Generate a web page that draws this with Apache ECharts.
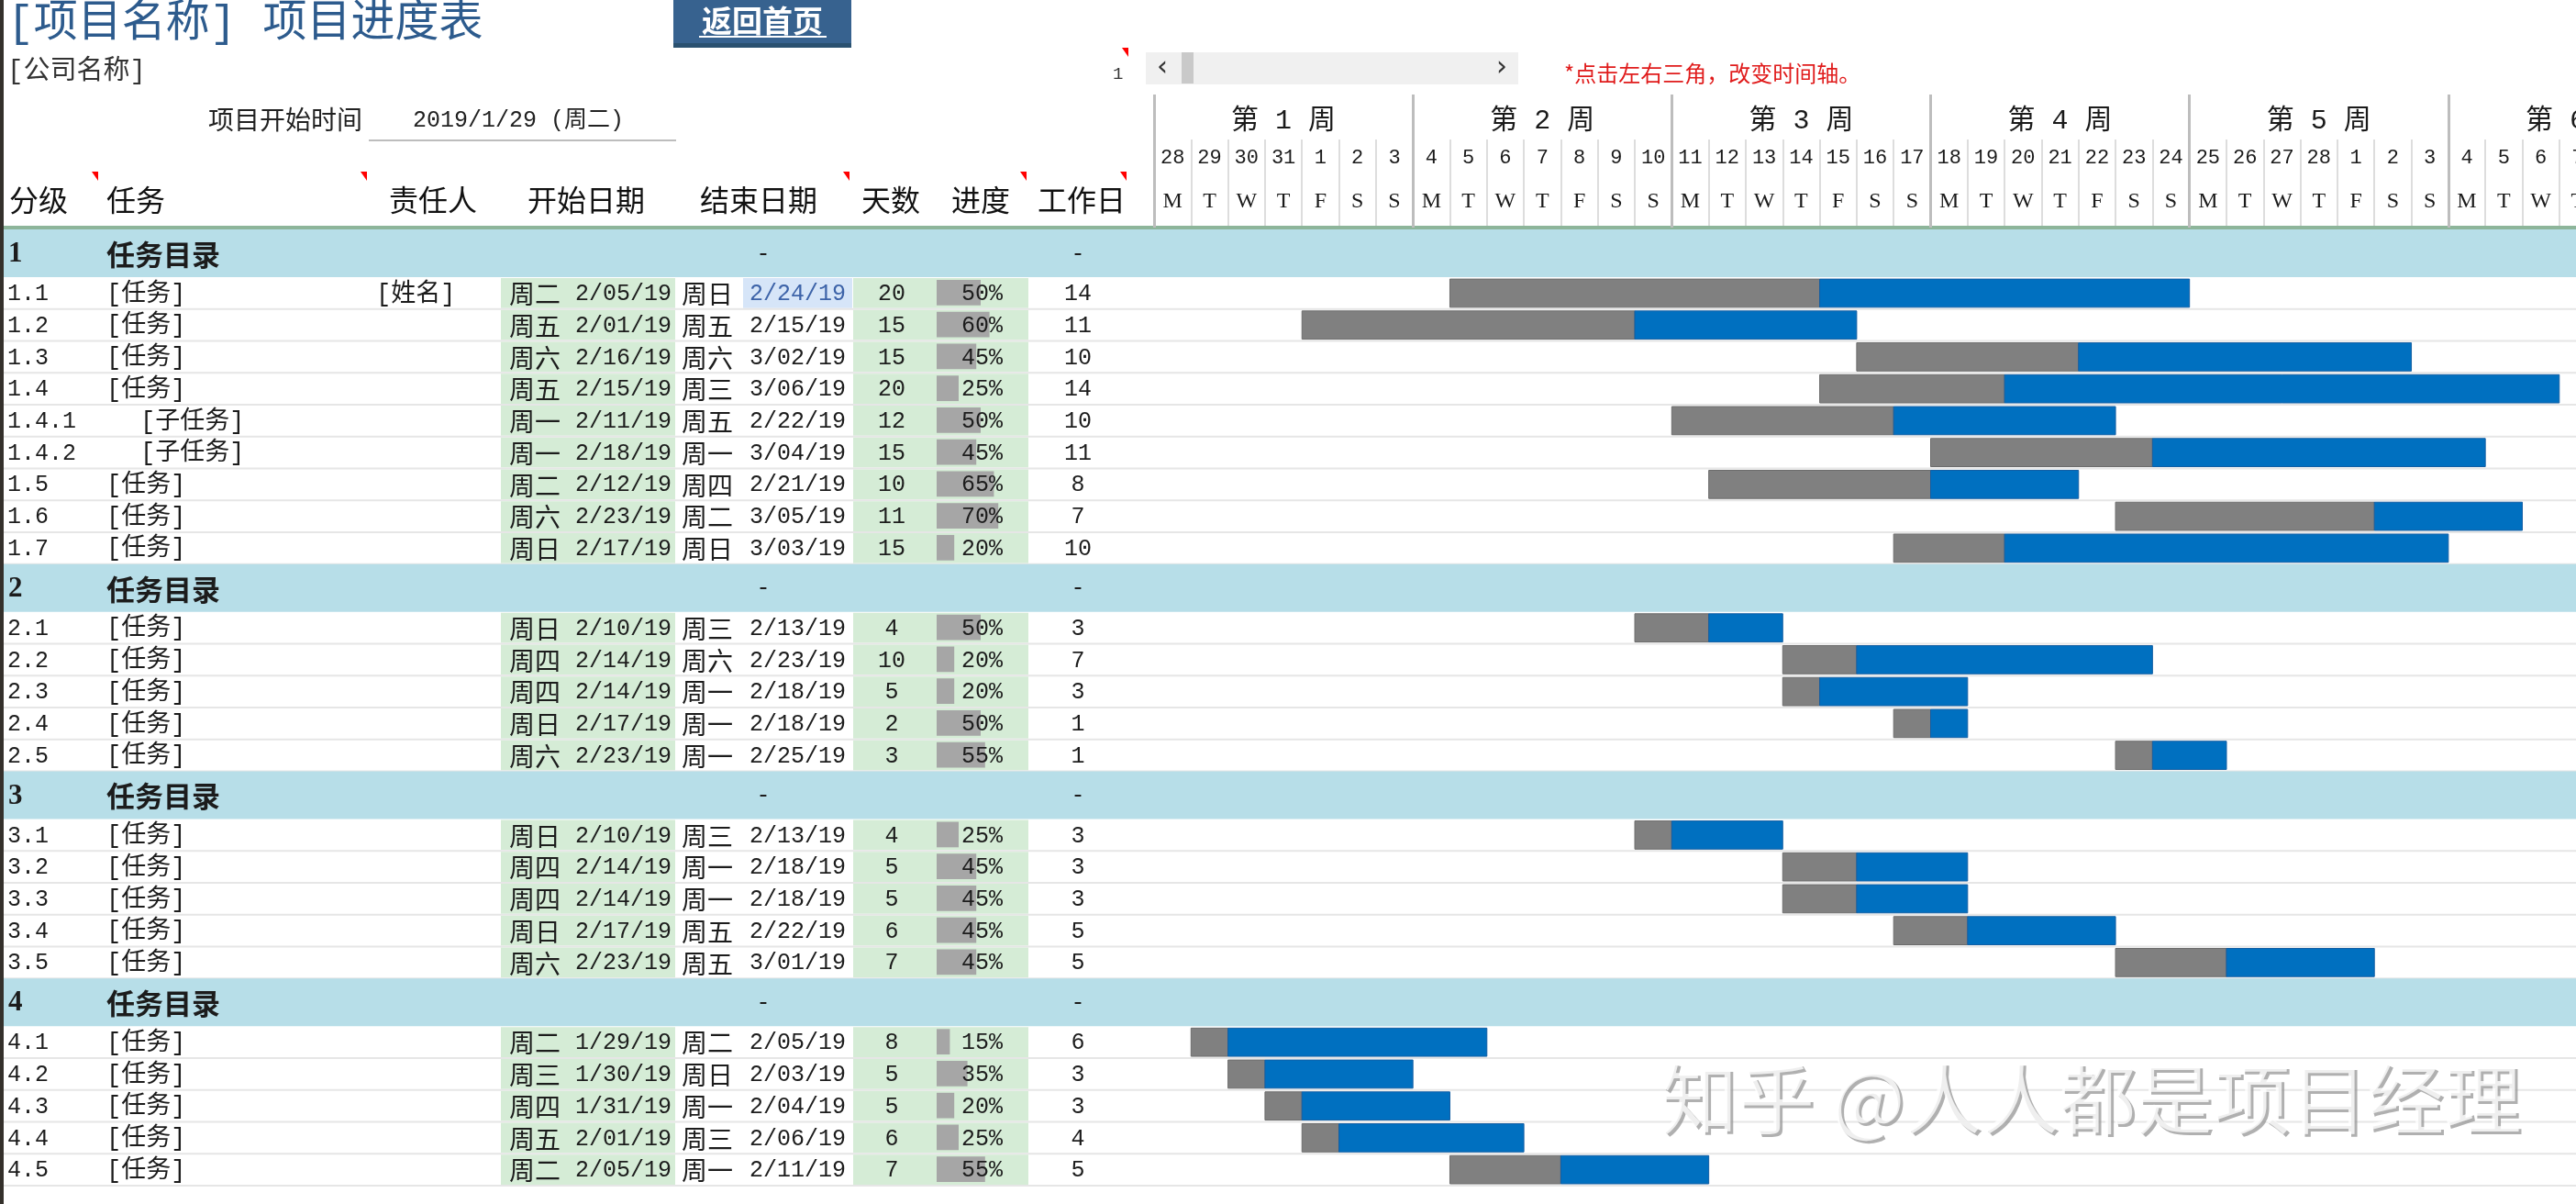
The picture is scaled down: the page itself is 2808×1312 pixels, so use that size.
<!DOCTYPE html>
<html><head><meta charset="utf-8">
<script src="https://cdn.jsdelivr.net/npm/echarts@6/dist/echarts.min.js"></script>
<style>html,body{margin:0;padding:0;background:#fff}#c{width:2808px;height:1312px}</style>
</head><body><div id="c"></div>
<script>
// ---------------- DATA ----------------
const timelineStart = '1/28/19';
const weekLabels = ['第 1 周','第 2 周','第 3 周','第 4 周','第 5 周','第 6 周'];
const dayNumbers = ['28','29','30','31','1','2','3','4','5','6','7','8','9','10','11','12','13','14','15','16','17','18','19','20','21','22','23','24','25','26','27','28','1','2','3','4','5','6','7'];
const weekdayLetters = ['M','T','W','T','F','S','S','M','T','W','T','F','S','S','M','T','W','T','F','S','S','M','T','W','T','F','S','S','M','T','W','T','F','S','S','M','T','W','T'];
const levels = ['1','1.1','1.2','1.3','1.4','1.4.1','1.4.2','1.5','1.6','1.7','2','2.1','2.2','2.3','2.4','2.5','3','3.1','3.2','3.3','3.4','3.5','4','4.1','4.2','4.3','4.4','4.5'];
const taskNames = ['任务目录','[任务]','[任务]','[任务]','[任务]','[子任务]','[子任务]','[任务]','[任务]','[任务]','任务目录','[任务]','[任务]','[任务]','[任务]','[任务]','任务目录','[任务]','[任务]','[任务]','[任务]','[任务]','任务目录','[任务]','[任务]','[任务]','[任务]','[任务]'];
const owners = ['','[姓名]','','','','','','','','','','','','','','','','','','','','','','','','','',''];
const startDates = [null,'2/05/19','2/01/19','2/16/19','2/15/19','2/11/19','2/18/19','2/12/19','2/23/19','2/17/19',null,'2/10/19','2/14/19','2/14/19','2/17/19','2/23/19',null,'2/10/19','2/14/19','2/14/19','2/17/19','2/23/19',null,'1/29/19','1/30/19','1/31/19','2/01/19','2/05/19'];
const endDates = [null,'2/24/19','2/15/19','3/02/19','3/06/19','2/22/19','3/04/19','2/21/19','3/05/19','3/03/19',null,'2/13/19','2/23/19','2/18/19','2/18/19','2/25/19',null,'2/13/19','2/18/19','2/18/19','2/22/19','3/01/19',null,'2/05/19','2/03/19','2/04/19','2/06/19','2/11/19'];
const durations = [null,20,15,15,20,12,15,10,11,15,null,4,10,5,2,3,null,4,5,5,6,7,null,8,5,5,6,7];
const progressPct = [null,50,60,45,25,50,45,65,70,20,null,50,20,20,50,55,null,25,45,45,45,45,null,15,35,20,25,55];
const workdays = [null,14,11,10,14,10,11,8,7,10,null,3,7,3,1,1,null,3,3,3,5,5,null,6,3,3,4,5];
const doneDays = [null,10,9,6,5,6,6,6,7,3,null,2,2,1,1,1,null,1,2,2,2,3,null,1,1,1,1,3];
const projectStart = '2019/1/29 (周二)';

// ---------------- HELPERS ----------------
const MONO = "'Liberation Mono','Noto Sans CJK SC',monospace";
const CJK = "'Noto Sans CJK SC','Liberation Mono',sans-serif";
const SECTION = '#b7dee8', GREEN = '#d5ecd6', SEP = '#e6e6e6';
function parseD(s){ const p = s.split('/'); return Date.UTC(2000 + +p[2], +p[0]-1, +p[1]); }
const t0 = parseD(timelineStart);
function dayIdx(s){ return Math.round((parseD(s) - t0) / 86400000); }
function wk(s){ return '周' + '日一二三四五六'[new Date(parseD(s)).getUTCDay()]; }
const isSection = levels.map(l => l.indexOf('.') < 0);
const rowSpan = isSection.map(s => s ? 1.5 : 1);
const rowTop = []; let acc = 0;
rowSpan.forEach((h,i)=>{ rowTop.push(acc); acc += h; });
const TOTAL = acc;

const DAY_W = 40.31, GL = 1258, GW = 2808 - 1258, TOP = 250, BODY_H = 1042;
const XMAX = GW / DAY_W;   // visible span of the timeline, in days

// ---------------- SERIES ----------------
function tableItem(params, api){
  const i = api.value(2);
  const yT = api.coord([0, rowTop[i]])[1];
  const yB = api.coord([0, rowTop[i] + rowSpan[i]])[1];
  const yc = (yT + yB) / 2;
  const X = v => api.coord([v, rowTop[i]])[0];
  const k = [];
  const txt = (text, x, o) => ({type:'text', style:Object.assign({text:String(text), x:x, y:yc+1, fill:'#1c1c1c', fontSize:25, fontFamily:MONO, align:'left', verticalAlign:'middle'}, o||{})});
  if (isSection[i]) {
    k.push({type:'rect', shape:{x:X(0), y:yT, width:X(1258)-X(0), height:yB-yT}, style:{fill:SECTION}});
    k.push(txt(levels[i], X(9), {fontSize:31, fontWeight:'bold', fontFamily:"'Liberation Serif',serif"}));
    k.push(txt(taskNames[i], X(116), {fontSize:31, fontWeight:'bold', fontFamily:CJK}));
    k.push(txt('-', X(832), {align:'center'}));
    k.push(txt('-', X(1175), {align:'center'}));
  } else {
    k.push({type:'rect', shape:{x:X(546), y:yT+1, width:X(736)-X(546), height:yB-yT-2}, style:{fill:GREEN}});
    k.push({type:'rect', shape:{x:X(930), y:yT+1, width:X(1121)-X(930), height:yB-yT-2}, style:{fill:GREEN}});
    if (i === 1) k.push({type:'rect', shape:{x:X(810), y:yT+1, width:X(929)-X(810), height:yB-yT-2}, style:{fill:'#d6e5f8'}});
    k.push({type:'rect', shape:{x:X(1021), y:yT+3, width:(X(1117)-X(1021))*progressPct[i]/100, height:yB-yT-7}, style:{fill:'#a6a6a6'}});
    k.push({type:'line', shape:{x1:X(0), y1:yB, x2:X(1258), y2:yB}, style:{stroke:SEP, lineWidth:2}});
    k.push(txt(levels[i], X(8)));
    k.push(txt(taskNames[i], X(taskNames[i].indexOf('子')>=0 ? 153 : 116), {fontSize:27}));
    if (owners[i]) k.push(txt(owners[i], X(410), {fontSize:27}));
    k.push(txt(wk(startDates[i]), X(555), {fontSize:28, fontFamily:CJK}));
    k.push(txt(startDates[i], X(627)));
    k.push(txt(wk(endDates[i]), X(743), {fontSize:28, fontFamily:CJK}));
    k.push(txt(endDates[i], X(817), i===1 ? {fill:'#3d63a8'} : {}));
    k.push(txt(durations[i], X(972), {align:'center'}));
    k.push(txt(progressPct[i] + '%', X(1093), {align:'right'}));
    k.push(txt(workdays[i], X(1175), {align:'center'}));
  }
  return {type:'group', children:k};
}

function ganttBgItem(params, api){
  const i = api.value(2);
  const yT = api.coord([0, rowTop[i]])[1];
  const yB = api.coord([0, rowTop[i] + rowSpan[i]])[1];
  const x0 = api.coord([0, 0])[0], x1 = api.coord([XMAX, 0])[0];
  if (isSection[i]) return {type:'rect', shape:{x:x0, y:yT, width:x1-x0, height:yB-yT}, style:{fill:SECTION}};
  return {type:'line', shape:{x1:x0, y1:yB, x2:x1, y2:yB}, style:{stroke:SEP, lineWidth:2}};
}

function barItem(params, api){
  const s = api.value(0), e = api.value(1), d = api.value(2), r = api.value(3);
  const yT = api.coord([s, rowTop[r]])[1] + 2;
  const yB = api.coord([s, rowTop[r] + 1])[1] - 2;
  const xs = api.coord([s, 0])[0], xd = api.coord([s + d, 0])[0], xe = api.coord([e, 0])[0];
  return {type:'group', children:[
    {type:'rect', shape:{x:xs, y:yT, width:xd-xs, height:yB-yT}, style:{fill:'#808080', stroke:'#6c6c6c', lineWidth:1}},
    {type:'rect', shape:{x:xd, y:yT, width:xe-xd, height:yB-yT}, style:{fill:'#0070c0', stroke:'#135ea3', lineWidth:1}}
  ]};
}

const rowData = levels.map((l,i)=>[0, rowTop[i], i]);
const barData = [];
levels.forEach((l,i)=>{ if(!isSection[i]) barData.push([dayIdx(startDates[i]), dayIdx(endDates[i]) + 1, doneDays[i], i]); });

// ---------------- GRAPHIC (static sheet decorations) ----------------
const hdrY = 218;
const headerCols = [['分级',10],['任务',116],['责任人',424],['开始日期',575],['结束日期',763],['天数',939],['进度',1037],['工作日',1131]];
const redTri = [[103,187],[396,187],[922,187],[1115,187],[1224,187],[1226,52]];
const graphic = [
  {type:'rect', shape:{x:0,y:0,width:4,height:1312}, style:{fill:'#34302b'}, z:10},
  {type:'text', x:8, y:26, style:{text:'[项目名称] 项目进度表', fontSize:48, fontFamily:MONO, fill:'#2d5b8d', verticalAlign:'middle'}},
  {type:'rect', shape:{x:734,y:0,width:194,height:50}, style:{fill:'#37628f'}},
  {type:'rect', shape:{x:734,y:47,width:194,height:5}, style:{fill:'#2a5170'}},
  {type:'text', x:831, y:22, style:{text:'返回首页', fontSize:33, fontWeight:'bold', fontFamily:CJK, fill:'#ffffff', align:'center', verticalAlign:'middle'}},
  {type:'line', shape:{x1:762,y1:40,x2:901,y2:40}, style:{stroke:'#ffffff', lineWidth:2}},
  {type:'text', x:8, y:78, style:{text:'[公司名称]', fontSize:29, fontFamily:MONO, fill:'#333', verticalAlign:'middle'}},
  {type:'text', x:1213, y:81, style:{text:'1', fontSize:19, fontFamily:MONO, fill:'#333', verticalAlign:'middle'}},
  {type:'rect', shape:{x:1249,y:57,width:406,height:35}, style:{fill:'#f0f0f0'}},
  {type:'rect', shape:{x:1288,y:57,width:13,height:34}, style:{fill:'#c9c9c9'}},
  {type:'text', x:1267, y:74, style:{text:'‹', fontSize:30, fontFamily:"'DejaVu Sans'", fill:'#333', align:'center', verticalAlign:'middle'}},
  {type:'text', x:1637, y:74, style:{text:'›', fontSize:30, fontFamily:"'DejaVu Sans'", fill:'#333', align:'center', verticalAlign:'middle'}},
  {type:'text', x:1705, y:80, style:{text:'*点击左右三角，改变时间轴。', fontSize:24, fontFamily:CJK, fill:'#e01b1b', verticalAlign:'middle'}},
  {type:'text', x:227, y:130, style:{text:'项目开始时间', fontSize:28, fontFamily:CJK, fill:'#222', verticalAlign:'middle'}},
  {type:'text', x:450, y:131, style:{text:projectStart, fontSize:25, fontFamily:MONO, fill:'#222', verticalAlign:'middle'}},
  {type:'line', shape:{x1:402,y1:153,x2:737,y2:153}, style:{stroke:'#bdbdbd', lineWidth:2}},
  {type:'rect', shape:{x:0,y:246,width:2808,height:4}, style:{fill:'#8db59a'}, z:5}
];
headerCols.forEach(c => graphic.push({type:'text', x:c[1], y:hdrY, style:{text:c[0], fontSize:32, fontFamily:CJK, fill:'#111', verticalAlign:'middle'}}));
redTri.forEach(p => graphic.push({type:'polygon', shape:{points:[[p[0]-3,p[1]],[p[0]+4,p[1]],[p[0]+4,p[1]+10]]}, style:{fill:'#ff0000'}}));
graphic.push({type:'text', x:1813, y:1200, z:20, style:{text:'知乎 @人人都是项目经理', fontSize:84, fontFamily:CJK, fill:'rgba(150,150,150,0.75)', verticalAlign:'middle'}});
graphic.push({type:'text', x:1810, y:1197, z:21, style:{text:'知乎 @人人都是项目经理', fontSize:84, fontFamily:CJK, fill:'rgba(255,255,255,0.8)', verticalAlign:'middle'}});

// ---------------- OPTION ----------------
const isInt = v => Math.abs(v - Math.round(v)) < 1e-6;
const G = {containLabel:false, outerBoundsMode:'none'};
const chart = echarts.init(document.getElementById('c'), null, {renderer:'canvas'});
chart.setOption({
  animation:false,
  backgroundColor:'#ffffff',
  graphic: graphic,
  grid:[
    Object.assign({left:0, top:TOP, width:GL, height:BODY_H}, G),
    Object.assign({left:GL, top:TOP, width:GW, height:BODY_H}, G),
    Object.assign({left:GL, top:152, width:GW, height:96}, G),
    Object.assign({left:GL, top:103, width:GW, height:145}, G)
  ],
  xAxis:[
    {gridIndex:0, type:'value', min:0, max:GL, show:false},
    {gridIndex:1, type:'value', min:0, max:XMAX, show:false},
    {gridIndex:2, type:'value', min:0, max:XMAX, interval:1, position:'bottom', splitLine:{show:false},
      axisLine:{show:false, onZero:false}, axisTick:{show:true, inside:true, length:96, lineStyle:{color:'#d2d2d2', width:1.5}},
      axisLabel:{show:true, inside:true, margin:4, align:'left', padding:[0,0,0,3], showMinLabel:true, showMaxLabel:false, hideOverlap:false,
        formatter:(v)=> isInt(v) && dayNumbers[Math.round(v)] !== undefined ? '{d|' + dayNumbers[Math.round(v)] + '}\n{w|' + weekdayLetters[Math.round(v)] + '}' : '',
        rich:{d:{fontSize:22, fontFamily:MONO, color:'#1a1a1a', lineHeight:48, width:DAY_W-6, align:'center'},
              w:{fontSize:24, fontFamily:"'Liberation Serif',serif", color:'#1a1a1a', lineHeight:48, width:DAY_W-6, align:'center'}}}},
    {gridIndex:3, type:'value', min:0, max:XMAX, interval:7, position:'top', z:5, splitLine:{show:false},
      axisLine:{show:false, onZero:false}, axisTick:{show:true, inside:true, length:145, lineStyle:{color:'#bdbdbd', width:3}},
      axisLabel:{show:true, inside:true, margin:14, align:'left', padding:[0,0,0,3], showMinLabel:true, showMaxLabel:false, hideOverlap:false,
        formatter:(v)=> isInt(v/7) && weekLabels[Math.round(v/7)] ? '{w|' + weekLabels[Math.round(v/7)] + '}' : '',
        rich:{w:{fontSize:30, fontFamily:MONO, color:'#1a1a1a', width:DAY_W*7-6, align:'center'}}}}
  ],
  yAxis:[
    {gridIndex:0, type:'value', min:0, max:TOTAL, inverse:true, show:false},
    {gridIndex:1, type:'value', min:0, max:TOTAL, inverse:true, show:false},
    {gridIndex:2, type:'value', min:0, max:1, show:false},
    {gridIndex:3, type:'value', min:0, max:1, show:false}
  ],
  series:[
    {type:'custom', name:'table', xAxisIndex:0, yAxisIndex:0, clip:false, silent:true, renderItem:tableItem, data:rowData, encode:{x:0, y:1}},
    {type:'custom', name:'ganttRows', xAxisIndex:1, yAxisIndex:1, clip:false, silent:true, renderItem:ganttBgItem, data:rowData, encode:{x:0, y:1}},
    {type:'custom', name:'bars', xAxisIndex:1, yAxisIndex:1, clip:false, silent:true, renderItem:barItem, data:barData, encode:{x:[0,1], y:3}}
  ]
});
</script></body></html>
